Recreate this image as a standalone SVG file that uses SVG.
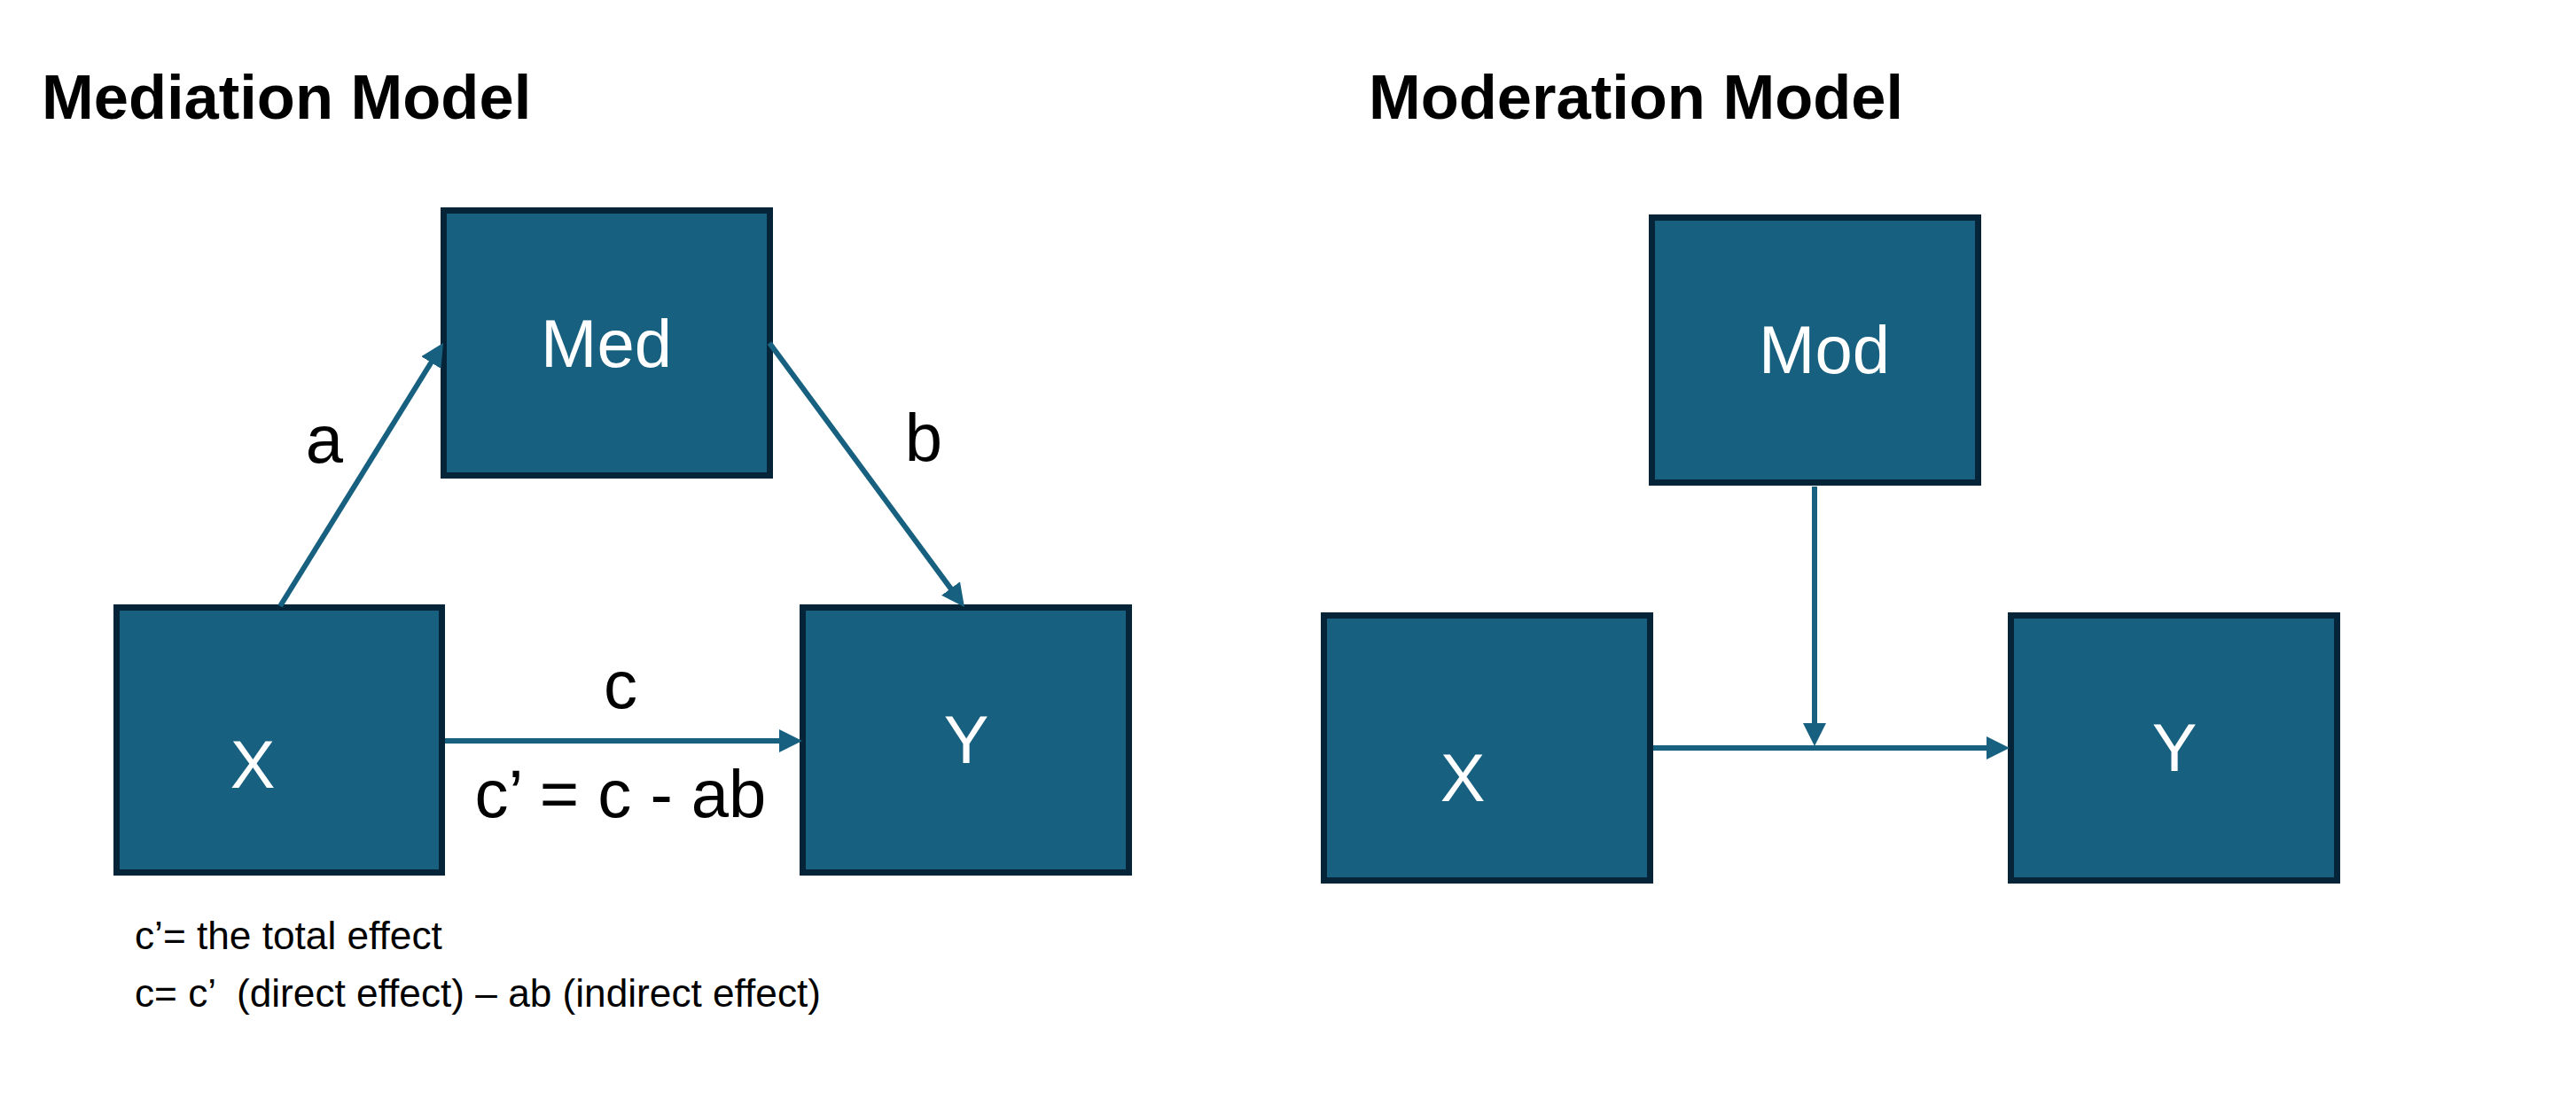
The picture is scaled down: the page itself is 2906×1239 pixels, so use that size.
<svg xmlns="http://www.w3.org/2000/svg" width="2906" height="1239" viewBox="0 0 2906 1239">
<style>
.box{fill:#17607f;stroke:#062437;stroke-width:7}
.nl{fill:#ffffff;font-family:"Liberation Sans",Arial,sans-serif;font-size:76px;text-anchor:middle}
.lbl{fill:#000000;font-family:"Liberation Sans",Arial,sans-serif;font-size:76px;text-anchor:middle}
.title{fill:#000000;font-family:"Liberation Sans",Arial,sans-serif;font-size:70.5px;font-weight:bold}
.note{fill:#000000;font-family:"Liberation Sans",Arial,sans-serif;font-size:44.2px}
.edge{fill:none;stroke:#17607f;stroke-width:6}
</style>
<defs>
<marker id="arr" markerUnits="userSpaceOnUse" markerWidth="28" markerHeight="28" viewBox="0 0 28 28" refX="6" refY="13" orient="auto">
<path d="M0,0 L26,13 L0,26 z" fill="#17607f"/>
</marker>
</defs>
<rect width="2906" height="1239" fill="#ffffff"/>
<text class="title" x="47" y="134">Mediation Model</text>
<text class="title" x="1544" y="134">Moderation Model</text>

<g id="med">
<rect class="box" x="500.5" y="237.5" width="368" height="299"/>
<text class="nl" x="684" y="414">Med</text>
</g>
<g id="x-med">
<rect class="box" x="131.5" y="685.5" width="367" height="299"/>
<text class="nl" x="285" y="889">X</text>
</g>
<g id="y-med">
<rect class="box" x="905.5" y="685.5" width="368" height="299"/>
<text class="nl" x="1090" y="861">Y</text>
</g>
<g id="mod">
<rect class="box" x="1863.5" y="245.5" width="368" height="299"/>
<text class="nl" x="2058" y="421">Mod</text>
</g>
<g id="x-mod">
<rect class="box" x="1493.5" y="694.5" width="368" height="299"/>
<text class="nl" x="1650" y="904">X</text>
</g>
<g id="y-mod">
<rect class="box" x="2268.5" y="694.5" width="368" height="299"/>
<text class="nl" x="2453" y="870">Y</text>
</g>

<g id="connectors">
<line class="edge" x1="316" y1="684" x2="489.5" y2="404" marker-end="url(#arr)"/>
<line class="edge" x1="868" y1="387" x2="1076.1" y2="668.9" marker-end="url(#arr)"/>
<line class="edge" x1="502" y1="836" x2="885" y2="836" marker-end="url(#arr)"/>
<line class="edge" x1="2047" y1="549" x2="2047" y2="822" marker-end="url(#arr)"/>
<line class="edge" x1="1865" y1="844" x2="2247" y2="844" marker-end="url(#arr)"/>
</g>

<g id="labels">
<text class="lbl" x="366" y="522">a</text>
<text class="lbl" x="1042" y="520">b</text>
<text class="lbl" x="700" y="799">c</text>
<text class="lbl" x="700" y="922">c’ = c - ab</text>
<text class="note" x="152" y="1071">c’= the total effect</text>
<text class="note" x="152" y="1136" xml:space="preserve">c= c’  (direct effect) – ab (indirect effect)</text>
</g>
</svg>
